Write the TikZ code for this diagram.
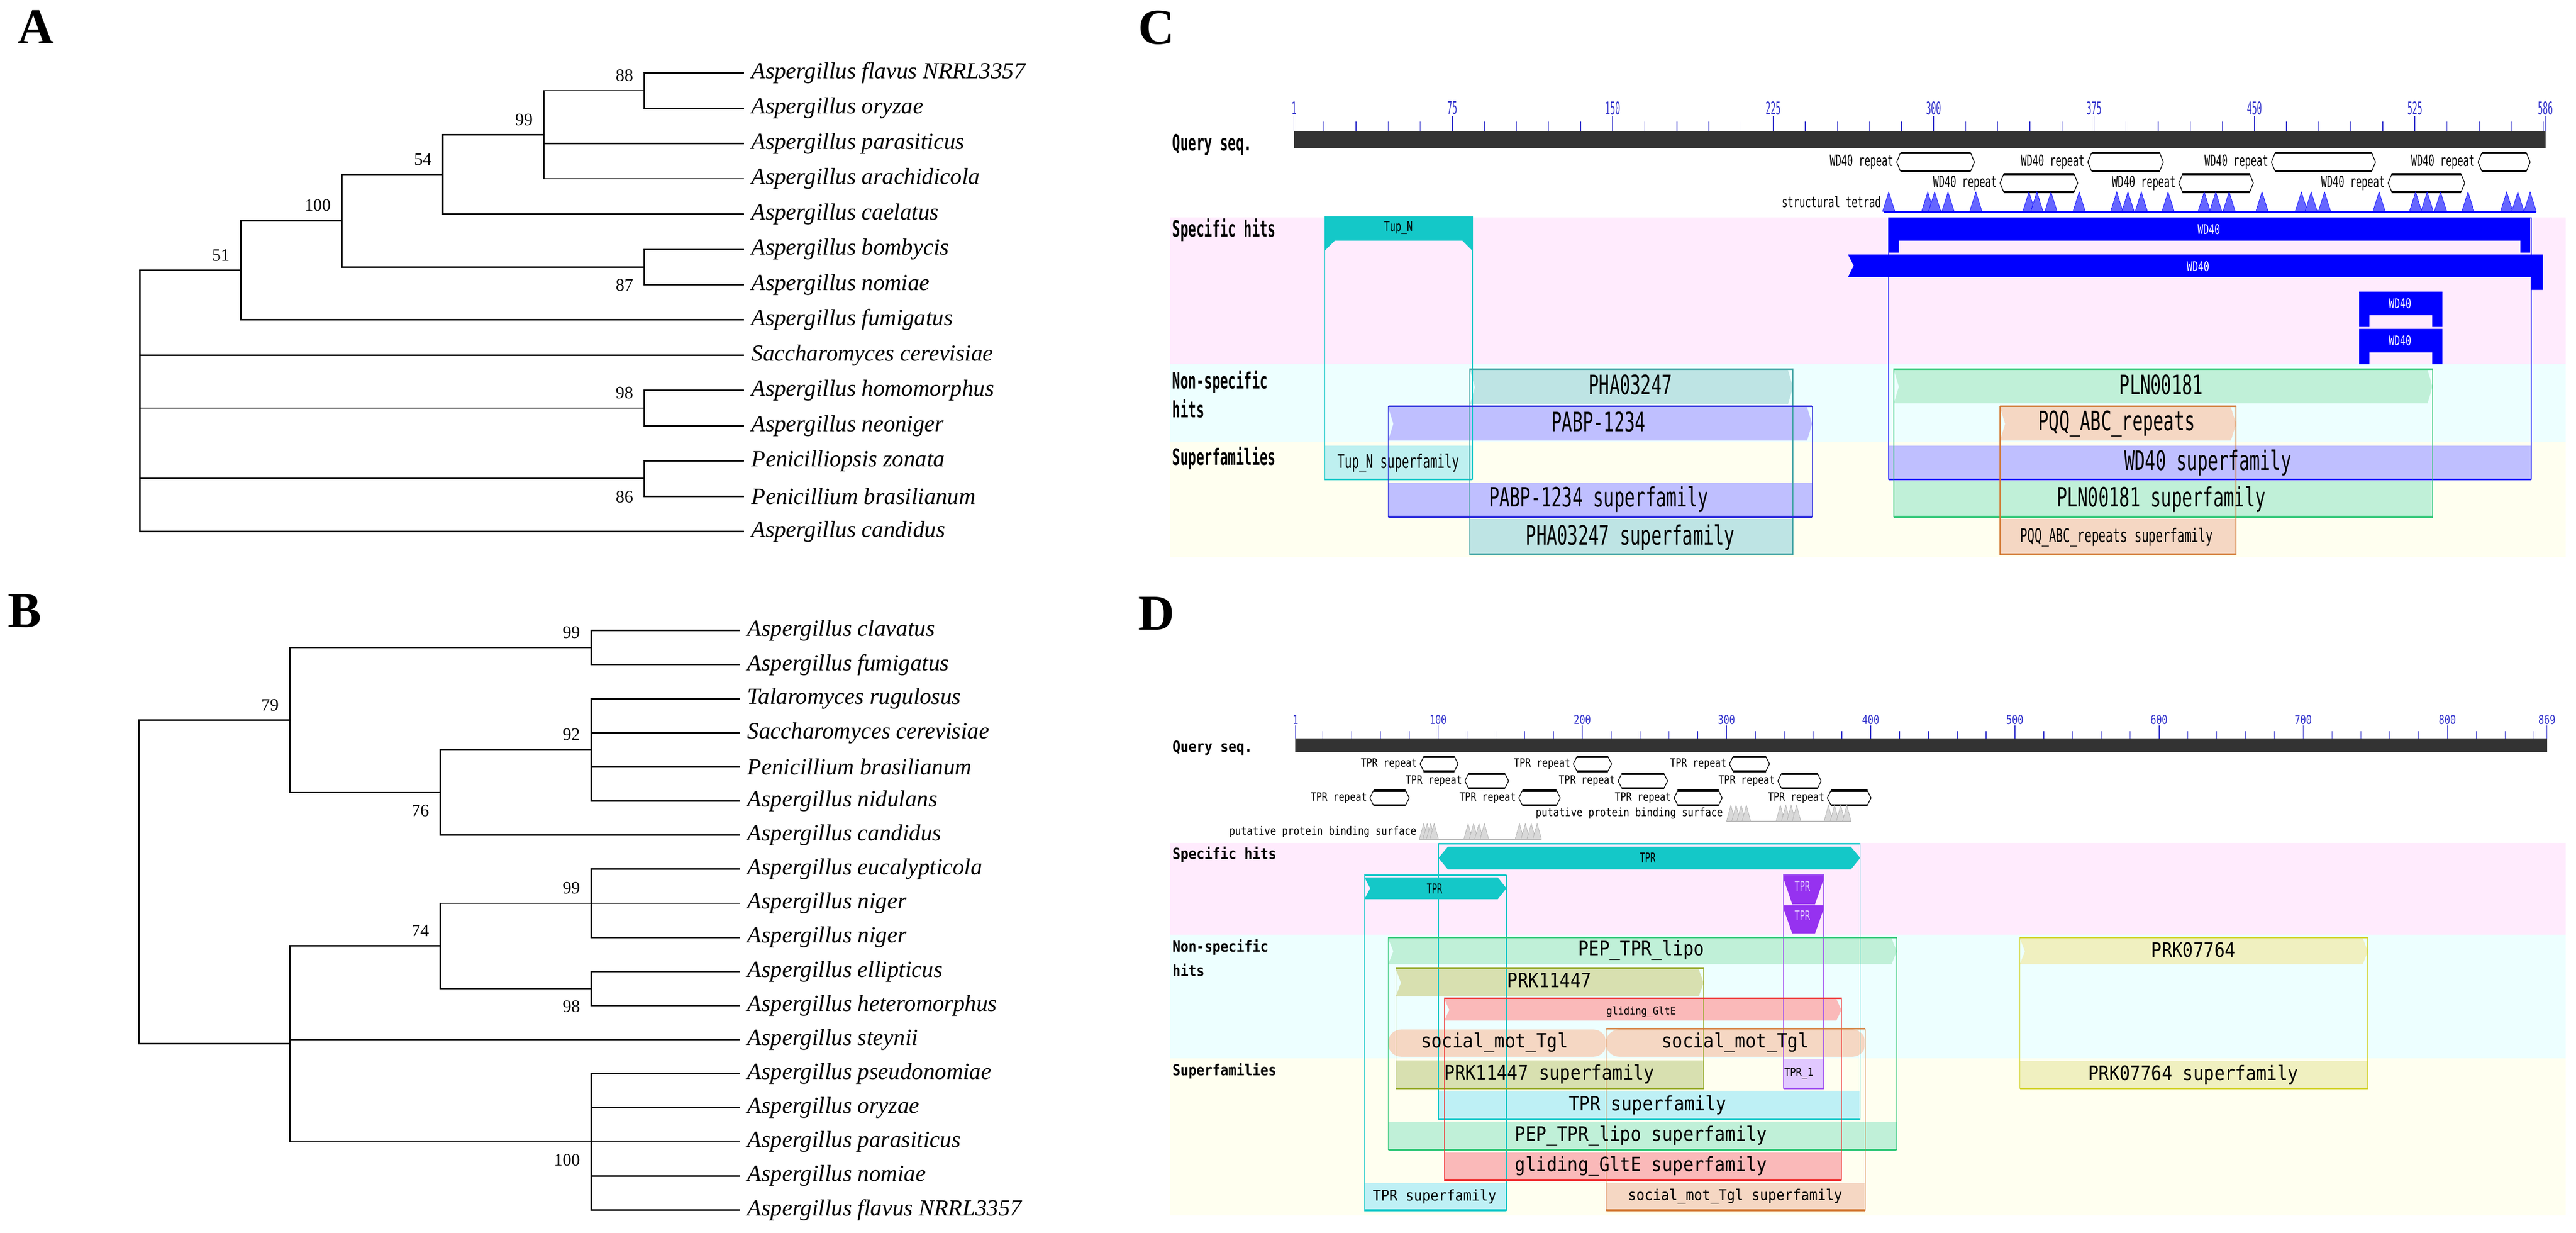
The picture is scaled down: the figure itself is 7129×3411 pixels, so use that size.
\documentclass[tikz,border=0pt]{standalone}
\usepackage{fontspec}
\usepackage{graphicx}
\setmainfont{Liberation Serif}
\newfontfamily\cddfont{DejaVu Sans Mono}
\usetikzlibrary{calc}
\definecolor{bandpink}{HTML}{FFEBFD}
\definecolor{bandcyan}{HTML}{EDFFFF}
\definecolor{bandyel}{HTML}{FFFFF0}
\definecolor{cddcyan}{HTML}{14C8C8}
\definecolor{cddblue}{HTML}{0000FF}
\definecolor{tickblue}{HTML}{3333CC}
\definecolor{qbar}{HTML}{333333}
\definecolor{phafill}{HTML}{BEE4E4}
\definecolor{phaline}{HTML}{3FA3A3}
\definecolor{lavfill}{HTML}{BFBFFF}
\definecolor{lavline}{HTML}{2A2ADC}
\definecolor{mintfill}{HTML}{C0F0D8}
\definecolor{mintline}{HTML}{33C878}
\definecolor{peachfill}{HTML}{F5D7C3}
\definecolor{peachline}{HTML}{D27832}
\definecolor{tupsf}{HTML}{BEF0F0}
\definecolor{tprsf}{HTML}{BEF0F5}
\definecolor{purp}{HTML}{9632F0}
\definecolor{purpfill}{HTML}{E1C8FF}
\definecolor{purpline}{HTML}{A050F0}
\definecolor{olivefill}{HTML}{D8E0B0}
\definecolor{oliveline}{HTML}{96AA28}
\definecolor{redfill}{HTML}{FAB9B9}
\definecolor{redline}{HTML}{F03232}
\definecolor{yelfill}{HTML}{F0F0C0}
\definecolor{yelline}{HTML}{D2D228}
\newcommand\cdt[3]{\scalebox{#1}[1]{\fontsize{#2pt}{#2pt}\selectfont\cddfont #3}}
% notched hit bar: fill, x1, x2, ytop, ybot
\newcommand\hitbar[5]{\fill[#1] (#2,#4) -- ({#3-14},#4) -- (#3,{(#4+#5)/2}) -- ({#3-14},#5) -- (#2,#5) -- ({#2+14},{(#4+#5)/2}) -- cycle;}
% footprint outline: colour, x1, x2, ytop, ybottom
\newcommand\footprint[5]{\draw[#1, line width=0.02cm] (#2,#4) rectangle (#3,#5);
 \draw[#1, line width=0.045cm] (#2,#4) -- (#3,#4);
 \draw[#1, line width=0.05cm] (#2,#5) -- (#3,#5);}
% repeat arrow: x1, x2, ytop, ybot
\newcommand\reparrow[4]{\draw[line width=0.02cm, fill=white] (#1,{(#3+#4)/2}) -- ({#1+10},#3) -- ({#2-10},#3) -- (#2,{(#3+#4)/2}) -- ({#2-10},#4) -- ({#1+10},#4) -- cycle;
 \draw[line width=0.06cm] ({#1+10},#3) -- ({#2-10},#3) ({#1+10},#4) -- ({#2-10},#4);}
% gray binding-site triangles: x1, x2, ytop, ybot
\newcommand\ptri[4]{\foreach \k in {0,1,2,3} {\filldraw[fill=gray!30, draw=gray!65, line width=0.01cm] ({#1+\k*(#2-#1-24)/3},#4) -- ({#1+12+\k*(#2-#1-24)/3},#3) -- ({#1+24+\k*(#2-#1-24)/3},#4) -- cycle;}
 \draw[gray!55, line width=0.03cm] (#1,#4) -- (#2,#4);}
\tikzset{
 br/.style={line width=0.04cm},
 leaf/.style={anchor=west, inner sep=0pt, xshift=0.2cm, font={\fontsize{18.2pt}{20pt}\selectfont\itshape}},
 bsa/.style={anchor=south east, inner sep=0pt, font={\fontsize{13.7pt}{15pt}\selectfont}},
 bsb/.style={anchor=north east, inner sep=0pt, font={\fontsize{13.7pt}{15pt}\selectfont}},
 plab/.style={inner sep=0pt, font={\fontsize{39.5pt}{40pt}\selectfont\bfseries}},
 tl/.style={inner sep=0pt, outer sep=0pt},
 sec/.style={tl, anchor=west},
 rep/.style={tl, anchor=east},
}
\begin{document}
\begin{tikzpicture}[x=0.01cm,y=-0.01cm]
\useasboundingbox (0,0) rectangle (7129,3411);
\fill[white] (0,0) rectangle (7129,3411);

% ================= Panel A =================
\node[plab] (labA) at (100,75) {A};
\coordinate (aR) at (387,1109);
\coordinate (a51) at (666,748);
\coordinate (a100) at (946,610.7);
\coordinate (a54) at (1225,482.6);
\coordinate (a99) at (1505,372.8);
\coordinate (a88) at (1783,250.8);
\coordinate (a87) at (1783,738.8);
\coordinate (a98) at (1783,1129.2);
\coordinate (a86) at (1783,1324.4);
\coordinate (aT1) at (2059,202);
\coordinate (aT2) at (2059,299.6);
\coordinate (aT3) at (2059,397.2);
\coordinate (aT4) at (2059,494.8);
\coordinate (aT5) at (2059,592.4);
\coordinate (aT6) at (2059,690);
\coordinate (aT7) at (2059,787.6);
\coordinate (aT8) at (2059,885.2);
\coordinate (aT9) at (2059,982.8);
\coordinate (aT10) at (2059,1080.4);
\coordinate (aT11) at (2059,1178);
\coordinate (aT12) at (2059,1275.6);
\coordinate (aT13) at (2059,1373.2);
\coordinate (aT14) at (2059,1470.8);
\draw[br] (aR) |- (a51); \draw[br] (aR) |- (aT9); \draw[br] (aR) |- (a98);
\draw[br] (aR) |- (a86); \draw[br] (aR) |- (aT14);
\draw[br] (a51) |- (a100); \draw[br] (a51) |- (aT8);
\draw[br] (a100) |- (a54); \draw[br] (a100) |- (a87);
\draw[br] (a54) |- (a99); \draw[br] (a54) |- (aT5);
\draw[br] (a99) |- (a88); \draw[br] (a99) |- (aT3); \draw[br] (a99) |- (aT4);
\draw[br] (a88) |- (aT1); \draw[br] (a88) |- (aT2);
\draw[br] (a87) |- (aT6); \draw[br] (a87) |- (aT7);
\draw[br] (a98) |- (aT10); \draw[br] (a98) |- (aT11);
\draw[br] (a86) |- (aT12); \draw[br] (a86) |- (aT13);
\node[leaf] (aL1) at (aT1) {Aspergillus flavus NRRL3357};
\node[leaf] (aL2) at (aT2) {Aspergillus oryzae};
\node[leaf] (aL3) at (aT3) {Aspergillus parasiticus};
\node[leaf] (aL4) at (aT4) {Aspergillus arachidicola};
\node[leaf] (aL5) at (aT5) {Aspergillus caelatus};
\node[leaf] (aL6) at (aT6) {Aspergillus bombycis};
\node[leaf] (aL7) at (aT7) {Aspergillus nomiae};
\node[leaf] (aL8) at (aT8) {Aspergillus fumigatus};
\node[leaf] (aL9) at (aT9) {Saccharomyces cerevisiae};
\node[leaf] (aL10) at (aT10) {Aspergillus homomorphus};
\node[leaf] (aL11) at (aT11) {Aspergillus neoniger};
\node[leaf] (aL12) at (aT12) {Penicilliopsis zonata};
\node[leaf] (aL13) at (aT13) {Penicillium brasilianum};
\node[leaf] (aL14) at (aT14) {Aspergillus candidus};
\node[bsa] (ba88) at ([xshift=-0.3cm,yshift=0.25cm]a88) {88};
\node[bsa] (ba99) at ([xshift=-0.3cm,yshift=0.25cm]a99) {99};
\node[bsa] (ba54) at ([xshift=-0.3cm,yshift=0.25cm]a54) {54};
\node[bsa] (ba100) at ([xshift=-0.3cm,yshift=0.25cm]a100) {100};
\node[bsa] (ba51) at ([xshift=-0.3cm,yshift=0.25cm]a51) {51};
\node[bsb] (ba87) at ([xshift=-0.3cm,yshift=-0.33cm]a87) {87};
\node[bsa] (ba98) at ([xshift=-0.3cm,yshift=0.25cm]a98) {98};
\node[bsb] (ba86) at ([xshift=-0.3cm,yshift=-0.33cm]a86) {86};

% ================= Panel B =================
\node[plab] (labB) at (69,1690) {B};
\coordinate (bR) at (384,2440);
\coordinate (b79) at (802,1992.5);
\coordinate (b99a) at (1636,1792.2);
\coordinate (b76) at (1218,2192.9);
\coordinate (b92) at (1636,2075);
\coordinate (bLo) at (802,2888.4);
\coordinate (b74) at (1218,2617.3);
\coordinate (b99b) at (1636,2499.4);
\coordinate (b98) at (1636,2735.2);
\coordinate (b100) at (1636,3159.5);
\coordinate (bT1) at (2048,1745);
\coordinate (bT2) at (2048,1839.3);
\coordinate (bT3) at (2048,1933.6);
\coordinate (bT4) at (2048,2027.9);
\coordinate (bT5) at (2048,2122.2);
\coordinate (bT6) at (2048,2216.5);
\coordinate (bT7) at (2048,2310.8);
\coordinate (bT8) at (2048,2405.1);
\coordinate (bT9) at (2048,2499.4);
\coordinate (bT10) at (2048,2593.7);
\coordinate (bT11) at (2048,2688);
\coordinate (bT12) at (2048,2782.3);
\coordinate (bT13) at (2048,2876.6);
\coordinate (bT14) at (2048,2970.9);
\coordinate (bT15) at (2048,3065.2);
\coordinate (bT16) at (2048,3159.5);
\coordinate (bT17) at (2048,3253.8);
\coordinate (bT18) at (2048,3348.1);
\draw[br] (bR) |- (b79); \draw[br] (bR) |- (bLo);
\draw[br] (b79) |- (b99a); \draw[br] (b79) |- (b76);
\draw[br] (b99a) |- (bT1); \draw[br] (b99a) |- (bT2);
\draw[br] (b76) |- (b92); \draw[br] (b76) |- (bT7);
\draw[br] (b92) |- (bT3); \draw[br] (b92) |- (bT4); \draw[br] (b92) |- (bT5); \draw[br] (b92) |- (bT6);
\draw[br] (bLo) |- (b74); \draw[br] (bLo) |- (bT13); \draw[br] (bLo) |- (b100);
\draw[br] (b74) |- (b99b); \draw[br] (b74) |- (b98);
\draw[br] (b99b) |- (bT8); \draw[br] (b99b) |- (bT9); \draw[br] (b99b) |- (bT10);
\draw[br] (b98) |- (bT11); \draw[br] (b98) |- (bT12);
\draw[br] (b100) |- (bT14); \draw[br] (b100) |- (bT15); \draw[br] (b100) |- (bT16);
\draw[br] (b100) |- (bT17); \draw[br] (b100) |- (bT18);
\node[leaf] (bL1) at (bT1) {Aspergillus clavatus};
\node[leaf] (bL2) at (bT2) {Aspergillus fumigatus};
\node[leaf] (bL3) at (bT3) {Talaromyces rugulosus};
\node[leaf] (bL4) at (bT4) {Saccharomyces cerevisiae};
\node[leaf] (bL5) at (bT5) {Penicillium brasilianum};
\node[leaf] (bL6) at (bT6) {Aspergillus nidulans};
\node[leaf] (bL7) at (bT7) {Aspergillus candidus};
\node[leaf] (bL8) at (bT8) {Aspergillus eucalypticola};
\node[leaf] (bL9) at (bT9) {Aspergillus niger};
\node[leaf] (bL10) at (bT10) {Aspergillus niger};
\node[leaf] (bL11) at (bT11) {Aspergillus ellipticus};
\node[leaf] (bL12) at (bT12) {Aspergillus heteromorphus};
\node[leaf] (bL13) at (bT13) {Aspergillus steynii};
\node[leaf] (bL14) at (bT14) {Aspergillus pseudonomiae};
\node[leaf] (bL15) at (bT15) {Aspergillus oryzae};
\node[leaf] (bL16) at (bT16) {Aspergillus parasiticus};
\node[leaf] (bL17) at (bT17) {Aspergillus nomiae};
\node[leaf] (bL18) at (bT18) {Aspergillus flavus NRRL3357};
\node[bsa] (bb99a) at ([xshift=-0.3cm,yshift=0.25cm]b99a) {99};
\node[bsa] (bb79) at ([xshift=-0.3cm,yshift=0.25cm]b79) {79};
\node[bsa] (bb92) at ([xshift=-0.3cm,yshift=0.25cm]b92) {92};
\node[bsb] (bb76) at ([xshift=-0.3cm,yshift=-0.33cm]b76) {76};
\node[bsa] (bb99b) at ([xshift=-0.3cm,yshift=0.25cm]b99b) {99};
\node[bsa] (bb74) at ([xshift=-0.3cm,yshift=0.25cm]b74) {74};
\node[bsb] (bb98) at ([xshift=-0.3cm,yshift=-0.33cm]b98) {98};
\node[bsb] (bb100) at ([xshift=-0.3cm,yshift=-0.33cm]b100) {100};

% ================= Panel C =================
\node[plab] (labC) at (3200,77) {C};
\fill[bandpink] (3238,602) rectangle (7100,1007);
\fill[bandcyan] (3238,1007) rectangle (7100,1223);
\fill[bandyel] (3238,1223) rectangle (7100,1541);
\fill[qbar] (3581,362) rectangle (7045,411);
\foreach \r in {15,30,...,585} \draw[tickblue, line width=0.02cm] ({3581+(\r-1)*5.92},337) -- ++(0,25);
\foreach \r in {1,75,150,225,300,375,450,525,586} {
  \draw[tickblue, line width=0.025cm] ({3581+(\r-1)*5.92},321) -- ++(0,41);
  \node[tl, text=tickblue] (ct\r) at ({3581+(\r-1)*5.92},299) {\cdt{0.47}{13.9}{\r}};}
\node[sec] (cq) at (3245,400) {\cdt{0.59}{17.6}{\bfseries Query seq.}};
\node[sec] (cs) at (3245,637) {\cdt{0.59}{17.6}{\bfseries Specific hits}};
\node[sec] (cn1) at (3245,1057) {\cdt{0.59}{17.6}{\bfseries Non-specific}};
\node[sec] (cn2) at (3245,1131) {\cdt{0.59}{17.6}{\bfseries hits}};
\node[sec] (csf) at (3245,1268) {\cdt{0.59}{17.6}{\bfseries Superfamilies}};
% WD40 repeats
\reparrow{5249}{5464}{424}{473} \node[rep] (cr1) at (5240,449) {\cdt{0.62}{12.2}{WD40 repeat}};
\reparrow{5778}{5987}{424}{473} \node[rep] (cr2) at (5769,449) {\cdt{0.62}{12.2}{WD40 repeat}};
\reparrow{6286}{6574}{424}{473} \node[rep] (cr3) at (6277,449) {\cdt{0.62}{12.2}{WD40 repeat}};
\reparrow{6858}{7002}{424}{473} \node[rep] (cr4) at (6849,449) {\cdt{0.62}{12.2}{WD40 repeat}};
\reparrow{5535}{5750}{482}{531} \node[rep] (cr5) at (5526,507) {\cdt{0.62}{12.2}{WD40 repeat}};
\reparrow{6030}{6236}{482}{531} \node[rep] (cr6) at (6021,507) {\cdt{0.62}{12.2}{WD40 repeat}};
\reparrow{6609}{6821}{482}{531} \node[rep] (cr7) at (6600,507) {\cdt{0.62}{12.2}{WD40 repeat}};
% structural tetrad
\node[rep] (ctet) at (5205,558) {\cdt{0.65}{11.7}{structural tetrad}};
\foreach \t in {5227,5335,5354,5391,5468,5615,5637,5676,5754,5858,5889,5926,6000,6100,6132,6169,6260,6369,6396,6433,6584,6685,6717,6754,6830,6937,6968,7002}
  \filldraw[fill=cddblue!60!white, draw=cddblue, line width=0.01cm] ({\t-17},585) -- (\t,531) -- ({\t+17},585) -- cycle;
\draw[cddblue, line width=0.04cm] (5212,587) -- (7018,587);
% --- fills
\fill[tupsf] (3666,1233) rectangle (4075,1327);
\fill[cddcyan] (3666,600) -- (4075,600) -- (4075,694) -- (4047,666) -- (3694,666) -- (3666,694) -- cycle;
\fill[lavfill] (5227,1233) rectangle (7005,1327);
\fill[cddblue] (5227,603) -- (7002,603) -- (7002,699) -- (6975,699) -- (6975,666) -- (5255,666) -- (5255,699) -- (5227,699) -- cycle;
\fill[cddblue] (5114,704) -- (7037,704) -- (7037,802) -- (7006,802) -- (7006,767) -- (5114,767) -- (5130,735) -- cycle;
\fill[cddblue] (6529,807) -- (6759,807) -- (6759,905) -- (6731,905) -- (6731,872) -- (6557,872) -- (6557,905) -- (6529,905) -- cycle;
\fill[cddblue] (6529,910) -- (6759,910) -- (6759,1008) -- (6731,1008) -- (6731,975) -- (6557,975) -- (6557,1008) -- (6529,1008) -- cycle;
\hitbar{phafill}{4068}{4962}{1024}{1119}
\fill[phafill] (4068,1436) rectangle (4962,1534);
\hitbar{lavfill}{3842}{5015}{1127}{1219}
\fill[lavfill] (3842,1336) rectangle (5015,1430);
\hitbar{mintfill}{5241}{6732}{1024}{1116}
\fill[mintfill] (5241,1332) rectangle (6732,1430);
\hitbar{peachfill}{5535}{6188}{1127}{1219}
\fill[peachfill] (5535,1436) rectangle (6188,1534);
% --- outlines
\draw[cddcyan, line width=0.02cm] (3666,600) rectangle (4075,1327);
\draw[cddcyan, line width=0.05cm] (3666,1327) -- (4075,1327);
\draw[cddblue, line width=0.02cm] (5227,603) rectangle (7005,1327);
\draw[cddblue, line width=0.05cm] (5227,1327) -- (7005,1327);
\footprint{phaline}{4068}{4962}{1021}{1534}
\footprint{lavline}{3842}{5015}{1124}{1430}
\footprint{mintline}{5241}{6732}{1021}{1430}
\footprint{peachline}{5535}{6188}{1124}{1534}
% --- labels
\node[tl] (cTup) at (3870,630) {\cdt{0.71}{10.5}{Tup\_N}};
\node[tl, text=white] (cW1) at (6113,634) {\cdt{0.7}{10.5}{WD40}};
\node[tl, text=white] (cW2) at (6083,737) {\cdt{0.7}{10.5}{WD40}};
\node[tl, text=white] (cW3) at (6642,840) {\cdt{0.7}{10.5}{WD40}};
\node[tl, text=white] (cW4) at (6642,943) {\cdt{0.7}{10.5}{WD40}};
\node[tl] (cPHA) at (4512,1064) {\cdt{0.65}{21}{PHA03247}};
\node[tl] (cPABP) at (4424,1167) {\cdt{0.65}{21}{PABP-1234}};
\node[tl] (cPLN) at (5981,1064) {\cdt{0.65}{21}{PLN00181}};
\node[tl] (cPQQ) at (5858,1172) {\cdt{0.65}{21}{PQQ\_ABC\_repeats}};
\node[tl] (cTupS) at (3870,1282) {\cdt{0.63}{14.8}{Tup\_N superfamily}};
\node[tl] (cWDS) at (6110,1281) {\cdt{0.65}{21}{WD40 superfamily}};
\node[tl] (cPABPS) at (4424,1382) {\cdt{0.65}{21}{PABP-1234 superfamily}};
\node[tl] (cPLNS) at (5981,1382) {\cdt{0.65}{21}{PLN00181 superfamily}};
\node[tl] (cPHAS) at (4512,1487) {\cdt{0.65}{21}{PHA03247 superfamily}};
\node[tl] (cPQQS) at (5858,1487) {\cdt{0.63}{14.8}{PQQ\_ABC\_repeats superfamily}};

% ================= Panel D =================
\node[plab] (labD) at (3200,1697) {D};
\fill[bandpink] (3238,2333) rectangle (7100,2587);
\fill[bandcyan] (3238,2587) rectangle (7100,2928);
\fill[bandyel] (3238,2928) rectangle (7100,3363);
\fill[qbar] (3585,2043) rectangle (7049,2082);
\foreach \r in {20,40,...,860} \draw[tickblue, line width=0.02cm] ({3585+(\r-1)*3.99},2023) -- ++(0,20);
\foreach \r in {1,100,200,300,400,500,600,700,800,869} {
  \draw[tickblue, line width=0.025cm] ({3585+(\r-1)*3.99},2007) -- ++(0,36);
  \node[tl, text=tickblue] (dt\r) at ({3585+(\r-1)*3.99},1991) {\cdt{0.77}{9.7}{\r}};}
\node[sec] (dq) at (3245,2070) {\cdt{0.87}{12}{\bfseries Query seq.}};
\node[sec] (ds) at (3245,2365) {\cdt{0.87}{12}{\bfseries Specific hits}};
\node[sec] (dn1) at (3245,2622) {\cdt{0.87}{12}{\bfseries Non-specific}};
\node[sec] (dn2) at (3245,2684) {\cdt{0.87}{12}{\bfseries hits}};
\node[sec] (dsf) at (3245,2964) {\cdt{0.87}{12}{\bfseries Superfamilies}};
% TPR repeats
\reparrow{3930}{4035}{2094}{2134} \node[rep] (dr1) at (3922,2114) {\cdt{0.81}{9.1}{TPR repeat}};
\reparrow{4354}{4460}{2094}{2134} \node[rep] (dr2) at (4346,2114) {\cdt{0.81}{9.1}{TPR repeat}};
\reparrow{4786}{4897}{2094}{2134} \node[rep] (dr3) at (4778,2114) {\cdt{0.81}{9.1}{TPR repeat}};
\reparrow{4054}{4175}{2141}{2181} \node[rep] (dr4) at (4046,2161) {\cdt{0.81}{9.1}{TPR repeat}};
\reparrow{4478}{4615}{2141}{2181} \node[rep] (dr5) at (4470,2161) {\cdt{0.81}{9.1}{TPR repeat}};
\reparrow{4920}{5040}{2141}{2181} \node[rep] (dr6) at (4912,2161) {\cdt{0.81}{9.1}{TPR repeat}};
\reparrow{3791}{3900}{2188}{2228} \node[rep] (dr7) at (3783,2208) {\cdt{0.81}{9.1}{TPR repeat}};
\reparrow{4203}{4318}{2188}{2228} \node[rep] (dr8) at (4195,2208) {\cdt{0.81}{9.1}{TPR repeat}};
\reparrow{4633}{4766}{2188}{2228} \node[rep] (dr9) at (4625,2208) {\cdt{0.81}{9.1}{TPR repeat}};
\reparrow{5057}{5178}{2188}{2228} \node[rep] (dr10) at (5049,2208) {\cdt{0.81}{9.1}{TPR repeat}};
% putative protein binding surfaces
\node[rep] (dp1) at (4768,2250) {\cdt{0.84}{9.1}{putative protein binding surface}};
\ptri{4778}{4845}{2228}{2273} \ptri{4915}{4984}{2228}{2273} \ptri{5048}{5123}{2228}{2273}
\draw[gray!55, line width=0.03cm] (4778,2273) -- (5123,2273);
\node[rep] (dp2) at (3920,2302) {\cdt{0.84}{9.1}{putative protein binding surface}};
\ptri{3928}{3981}{2279}{2322} \ptri{4051}{4120}{2279}{2322} \ptri{4193}{4266}{2279}{2322}
\draw[gray!55, line width=0.03cm] (3928,2322) -- (4266,2322);
% --- fills
\fill[tprsf] (3981,3019) rectangle (5148,3097);
\fill[cddcyan] (3981,2374) -- (4007,2343) -- (5122,2343) -- (5148,2374) -- (5122,2406) -- (4007,2406) -- cycle;
\fill[tprsf] (3776,3274) rectangle (4169,3349);
\fill[cddcyan] (3776,2428) -- (4145,2428) -- (4169,2458) -- (4145,2488) -- (3776,2488) -- (3792,2458) -- cycle;
\fill[purpfill] (4936,2931) rectangle (5047,3012);
\fill[purp] (4936,2420) -- (5047,2420) -- (5047,2432) -- (5023,2502) -- (4960,2502) -- (4936,2432) -- cycle;
\fill[purp] (4936,2505) -- (5047,2505) -- (5047,2515) -- (5023,2583) -- (4960,2583) -- (4936,2515) -- cycle;
\hitbar{mintfill}{3842}{5249}{2597}{2668}
\fill[mintfill] (3842,3104) rectangle (5249,3182);
\hitbar{olivefill}{3863}{4715}{2682}{2757}
\fill[olivefill] (3863,2934) rectangle (4715,3012);
\hitbar{redfill}{3997}{5096}{2765}{2824}
\fill[redfill] (3997,3189) rectangle (5096,3265);
\fill[peachfill, rounded corners=0.35cm] (3842,2849) rectangle (4445,2924);
\fill[peachfill, rounded corners=0.35cm] (4445,2849) rectangle (5162,2924);
\fill[peachfill] (4445,3274) rectangle (5162,3349);
\hitbar{yelfill}{5590}{6553}{2597}{2668}
\fill[yelfill] (5590,2936) rectangle (6553,3012);
% --- outlines
\footprint{cddcyan}{3981}{5148}{2335}{3097}
\footprint{cddcyan}{3776}{4169}{2422}{3349}
\footprint{purpline}{4936}{5047}{2420}{3012}
\footprint{mintline}{3842}{5249}{2594}{3182}
\footprint{oliveline}{3863}{4715}{2679}{3012}
\footprint{redline}{3997}{5096}{2762}{3265}
\footprint{peachline}{4445}{5162}{2847}{3349}
\footprint{yelline}{5590}{6553}{2594}{3012}
% --- labels
\node[tl] (dTPRa) at (4560,2374) {\cdt{0.63}{10.8}{TPR}};
\node[tl] (dTPRb) at (3970,2459) {\cdt{0.63}{10.8}{TPR}};
\node[tl, text=purpfill] (dTPRc) at (4988,2452) {\cdt{0.63}{10.8}{TPR}};
\node[tl, text=purpfill] (dTPRd) at (4988,2534) {\cdt{0.63}{10.8}{TPR}};
\node[tl] (dPEP) at (4542,2629) {\cdt{0.88}{15.6}{PEP\_TPR\_lipo}};
\node[tl] (dPRK1) at (4288,2713) {\cdt{0.88}{15.6}{PRK11447}};
\node[tl] (dGlt) at (4542,2800) {\cdt{0.89}{8.5}{gliding\_GltE}};
\node[tl] (dSoc1) at (4136,2885) {\cdt{0.88}{15.6}{social\_mot\_Tgl}};
\node[tl] (dSoc2) at (4802,2885) {\cdt{0.88}{15.6}{social\_mot\_Tgl}};
\node[tl] (dPRK7) at (6070,2629) {\cdt{0.88}{15.6}{PRK07764}};
\node[tl] (dPRK1S) at (4288,2972) {\cdt{0.88}{15.6}{PRK11447 superfamily}};
\node[tl] (dTPR1) at (4978,2970) {\cdt{0.89}{8.5}{TPR\_1}};
\node[tl] (dPRK7S) at (6070,2974) {\cdt{0.88}{15.6}{PRK07764 superfamily}};
\node[tl] (dTPRS) at (4560,3058) {\cdt{0.88}{15.6}{TPR superfamily}};
\node[tl] (dPEPS) at (4542,3143) {\cdt{0.88}{15.6}{PEP\_TPR\_lipo superfamily}};
\node[tl] (dGltS) at (4542,3227) {\cdt{0.88}{15.6}{gliding\_GltE superfamily}};
\node[tl] (dTPRS2) at (3970,3311) {\cdt{0.92}{11.7}{TPR superfamily}};
\node[tl] (dSocS) at (4802,3311) {\cdt{0.92}{11.7}{social\_mot\_Tgl superfamily}};
\end{tikzpicture}
\end{document}
